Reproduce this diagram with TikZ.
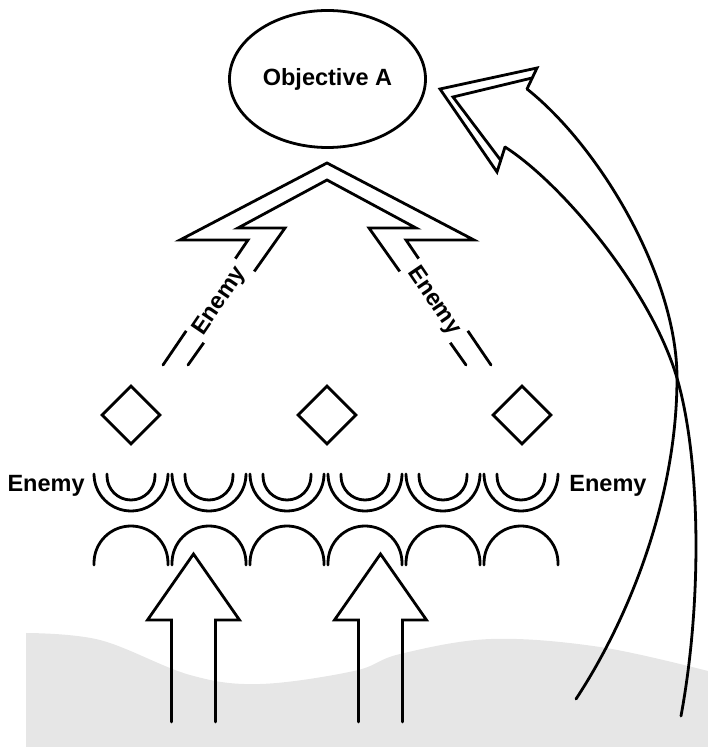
\documentclass[tikz,border=0pt]{standalone}
\usepackage{fontspec}
\setmainfont{Liberation Sans}
\usetikzlibrary{shapes.geometric}
\definecolor{groundgray}{RGB}{230,230,230}

\begin{document}
\begin{tikzpicture}[x=1pt,y=1pt,line width=2.8pt,line cap=round,
    objective/.style={draw,ellipse,minimum width=196pt,minimum height=137pt,inner sep=0pt,font=\fontsize{23.5}{28}\selectfont\bfseries},
    post/.style={draw,diamond,minimum width=59pt,minimum height=59pt,inner sep=0pt},
    enemy/.style={inner sep=0pt,font=\fontsize{23.5}{28}\selectfont\bfseries},
    axislabel/.style={fill=white,inner xsep=5pt,minimum height=30pt,font=\fontsize{23.5}{28}\selectfont\bfseries}]
            \useasboundingbox (0,0) rectangle (708,747);
            %
            \fill[groundgray] (26,0) -- plot[smooth,tension=0.6] coordinates {(26,114) (100,107) (190,72) (260,63) (354,76) (400,93) (491,108) (600,100) (708,76)} -- (708,0) -- cycle;
            %
            \node (objA) at (327.5,668) [objective] {Objective A};
            %
            \draw (163,382) -- (248,507) -- (180,507) -- (327,584) -- (474,507) -- (406,507) -- (491,382);
            \draw (188,382) -- (285,519) -- (238,519) -- (327,567) -- (416,519) -- (369,519) -- (466,382);
            \node (axisL) at (220,446) [axislabel,rotate=55.8] {Enemy};
            \node (axisR) at (434,446) [axislabel,rotate=-55.8] {Enemy};
            %
            \foreach \x [count=\i] in {131,327,522}
                \node (post\i) at (\x,332) [post] {};
            %
            \foreach \x in {131,209,...,521} {
                \draw (\x-37,273) arc[start angle=180,end angle=360,radius=37];
                \draw (\x-24,273) -- (\x-24,271) arc[start angle=180,end angle=360,radius=24] -- (\x+24,273);
                \draw (\x-37,182) -- (\x-37,184) arc[start angle=180,end angle=0,radius=37] -- (\x+37,182);
            }
            \node (enemyL) at (86,255) [enemy,anchor=base east] {Enemy};
            \node (enemyR) at (568,255) [enemy,anchor=base west] {Enemy};
            %
            \foreach \x in {193.5,380.5}
                \draw (\x-22,25) -- (\x-22,127) -- (\x-46,127) -- (\x,193) -- (\x+46,127) -- (\x+22,127) -- (\x+22,25);
            %
            \draw (527,658) -- (537,679) -- (440,658) -- (497,575) -- (505,600);
            \draw (532,669) -- (453,650) -- (500.5,587);
            \draw (527,658) .. controls (600,600) and (677,470) .. (677,369) .. controls (677,250) and (630,130) .. (576,48);
            \draw (505,600) .. controls (560,565) and (650,460) .. (677,369) .. controls (700,290) and (703,150) .. (681,31);
            %
\end{tikzpicture}
\end{document}
